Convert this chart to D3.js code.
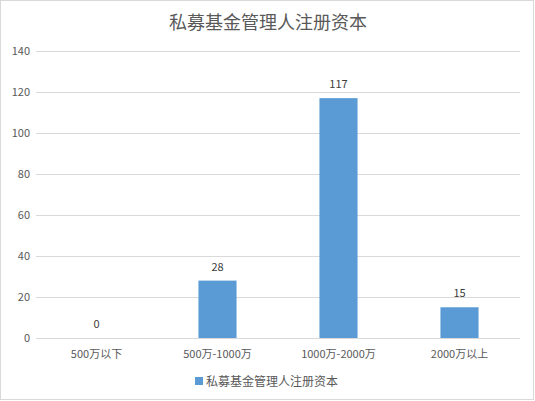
<!DOCTYPE html>
<html>
<head>
<meta charset="utf-8">
<script src="https://cdn.jsdelivr.net/npm/d3@7"></script>
<style>
  body { margin: 0; background: #fff; }
  text { font-family: "Noto Sans CJK SC", "Microsoft YaHei", sans-serif; }
</style>
</head>
<body>
<script>
var categories = ["500万以下", "500万-1000万", "1000万-2000万", "2000万以上"];
var values = [0, 28, 117, 15];
var yTicks = [0, 20, 40, 60, 80, 100, 120, 140];
var title = "私募基金管理人注册资本";
var seriesName = "私募基金管理人注册资本";

var chart = { width: 535, height: 401 };
var plot = { left: 36, right: 520, top: 51, bottom: 338 };

var svg = d3.select("body")
    .append("svg")
    .attr("width", chart.width)
    .attr("height", chart.height);

// outer frame
svg.append("rect")
    .attr("x", 0.5).attr("y", 0.5)
    .attr("width", chart.width - 2).attr("height", chart.height - 2)
    .attr("fill", "#fff")
    .attr("stroke", "#d9d9d9");

var x = d3.scaleBand()
    .domain(categories)
    .range([plot.left, plot.right])
    .paddingInner(0.685)
    .paddingOuter(0.3425);

var y = d3.scaleLinear()
    .domain([0, 140])
    .range([plot.bottom, plot.top]);

// gridlines
svg.append("g")
    .selectAll("line")
    .data(yTicks)
    .enter()
    .append("line")
        .attr("x1", plot.left)
        .attr("x2", plot.right)
        .attr("y1", d => Math.round(y(d)) + 0.5)
        .attr("y2", d => Math.round(y(d)) + 0.5)
        .attr("stroke", "#d9d9d9")
        .attr("stroke-width", 1);

// y tick labels
svg.append("g")
    .selectAll("text")
    .data(yTicks)
    .enter()
    .append("text")
        .attr("x", 30)
        .attr("y", d => y(d) + 4)
        .attr("text-anchor", "end")
        .attr("font-size", 11)
        .attr("fill", "#595959")
        .text(d => d);

// bars
svg.append("g")
    .selectAll("rect")
    .data(values)
    .enter()
    .append("rect")
        .attr("x", (d, i) => x(categories[i]))
        .attr("width", x.bandwidth())
        .attr("y", d => y(d))
        .attr("height", d => y(0) - y(d))
        .attr("fill", "#5b9bd5");

// data labels
svg.append("g")
    .selectAll("text")
    .data(values)
    .enter()
    .append("text")
        .attr("x", (d, i) => x(categories[i]) + x.bandwidth() / 2)
        .attr("y", d => y(d) - 10)
        .attr("text-anchor", "middle")
        .attr("font-size", 11)
        .attr("fill", "#404040")
        .text(d => d);

// category labels
svg.append("g")
    .selectAll("text")
    .data(categories)
    .enter()
    .append("text")
        .attr("x", d => x(d) + x.bandwidth() / 2)
        .attr("y", 358)
        .attr("text-anchor", "middle")
        .attr("font-size", 11)
        .attr("fill", "#595959")
        .text(d => d);

// title
svg.append("text")
    .attr("x", 268)
    .attr("y", 29)
    .attr("text-anchor", "middle")
    .attr("font-size", 18)
    .attr("fill", "#595959")
    .text(title);

// legend
var legend = svg.append("g");
legend.append("rect")
    .attr("x", 195).attr("y", 377)
    .attr("width", 8).attr("height", 8)
    .attr("fill", "#5b9bd5");
legend.append("text")
    .attr("x", 206)
    .attr("y", 386)
    .attr("font-size", 12)
    .attr("fill", "#595959")
    .text(seriesName);
</script>
</body>
</html>
